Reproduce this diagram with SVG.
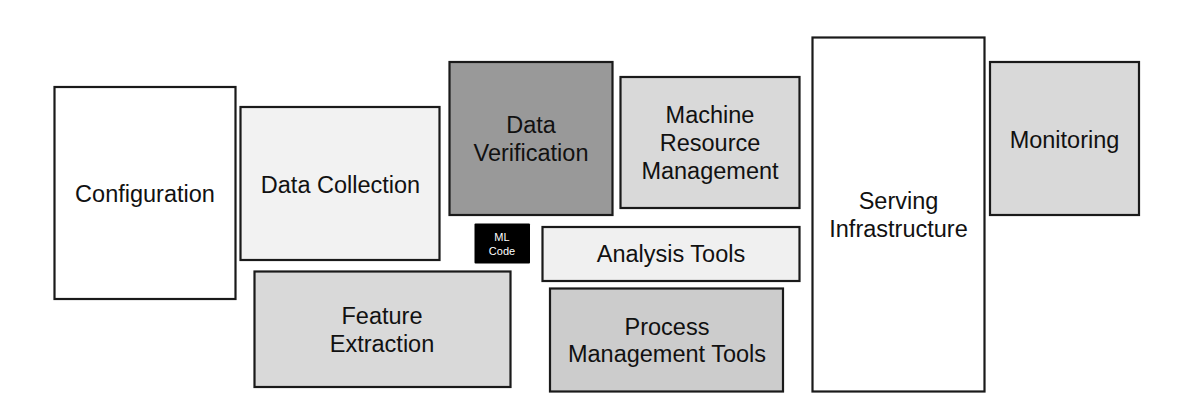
<svg xmlns="http://www.w3.org/2000/svg" width="1177" height="402" viewBox="0 0 1177 402">
<style>
rect.n{stroke:#1a1a1a;stroke-width:2.2}
text{font-family:"Liberation Sans",Arial,sans-serif;font-size:23.5px;fill:#111;text-anchor:middle}
text.s{font-size:11px;fill:#fff}
</style>
<rect width="1177" height="402" fill="#fff"/>
<g id="configuration"><rect class="n" x="54.5" y="87" width="181" height="212" fill="#ffffff"/><text x="145" y="201.5">Configuration</text></g>
<g id="data-collection"><rect class="n" x="240.5" y="107" width="199" height="153" fill="#f2f2f2"/><text x="340.5" y="192.5">Data Collection</text></g>
<g id="feature-extraction"><rect class="n" x="254.5" y="271.5" width="256" height="115.5" fill="#d9d9d9"/><text x="382" y="324">Feature</text><text x="382" y="352">Extraction</text></g>
<g id="data-verification"><rect class="n" x="449.5" y="62" width="163" height="153" fill="#999999"/><text x="531" y="133">Data</text><text x="531" y="161">Verification</text></g>
<g id="machine-resource-management"><rect class="n" x="620.5" y="77" width="179" height="131" fill="#d9d9d9"/><text x="710" y="123">Machine</text><text x="710" y="151">Resource</text><text x="710" y="179">Management</text></g>
<g id="ml-code"><rect x="474.5" y="223.5" width="55.5" height="40" fill="#000" rx="1"/><text class="s" x="502" y="241">ML</text><text class="s" x="502" y="254.5">Code</text></g>
<g id="analysis-tools"><rect class="n" x="542.5" y="227" width="257" height="54" fill="#f0f0f0"/><text x="671" y="262">Analysis Tools</text></g>
<g id="process-management-tools"><rect class="n" x="550" y="288.5" width="233" height="103" fill="#cccccc"/><text x="667" y="334.5">Process</text><text x="667" y="362">Management Tools</text></g>
<g id="serving-infrastructure"><rect class="n" x="812.5" y="37.5" width="172" height="354" fill="#ffffff"/><text x="898.5" y="209">Serving</text><text x="898.5" y="237">Infrastructure</text></g>
<g id="monitoring"><rect class="n" x="990" y="62" width="149" height="153" fill="#d9d9d9"/><text x="1064.5" y="147.5">Monitoring</text></g>
<g id="connectors"></g>
</svg>
